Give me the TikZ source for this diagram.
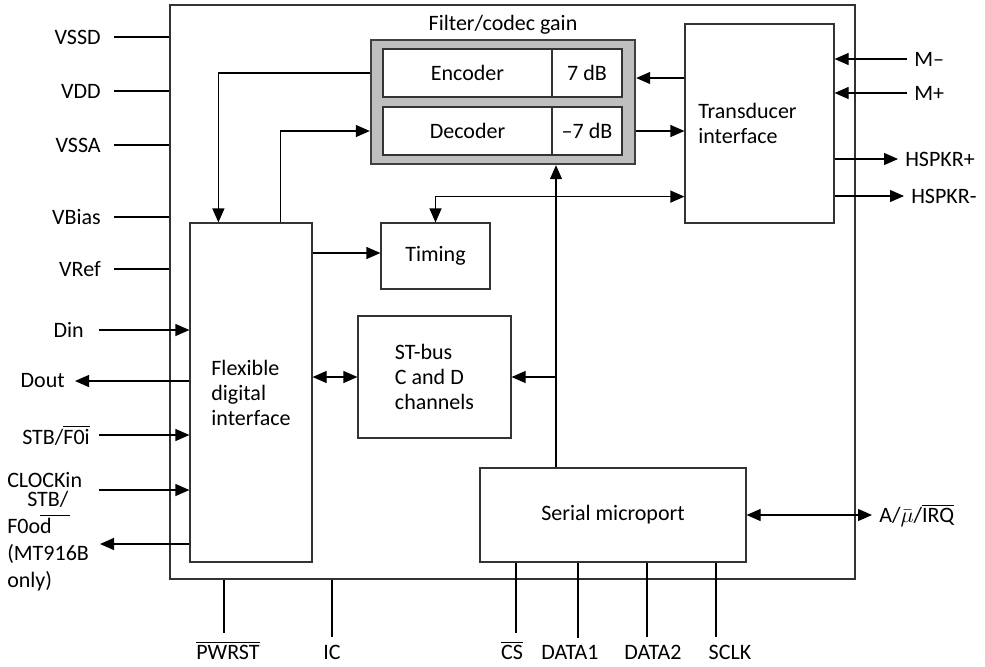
\documentclass[tikz,border=0pt]{standalone}
\usepackage{fontspec}
\setmainfont{Carlito}
\usepackage{tikz}
\usetikzlibrary{positioning, arrows.meta, calc}

\begin{document}
\begin{tikzpicture}[
        x=0.5pt, y=-0.5pt,          % one unit = one pixel of the sheet, y downwards
        >={Triangle[length=7pt,width=6pt]},
        semithick,                  % thin wires everywhere
        font=\fontsize{11}{12.5}\selectfont,
        blk/.style n args={2}{      % plain block: width, height
            draw=black!80,
            minimum width=#1,
            minimum height=#2,
            inner sep=0pt,
            align=left
        },
        cell/.style n args={2}{blk={#1}{#2}, fill=white}
    ]

    \useasboundingbox (0,0) rectangle (985,666);

    % --- Chip outline ---
    \node[blk={342.5pt}{287pt}] (chip) at (512.5,292) {};

    % --- Blocks ---
    \node[blk={61pt}{169.5pt}] (fdi) at (251,392.5) {Flexible\\digital\\interface};
    \node[blk={54.5pt}{33pt}] (timing) at (435.5,256) {Timing};
    \node[blk={76.5pt}{61pt}] (stbus) at (434.5,377) {ST-bus\\C and D\\channels};
    \node[blk={133pt}{47pt}] (serial) at (613,515) {Serial microport};
    \node[blk={74.5pt}{99.5pt}] (trans) at (759.5,123.5) {Transducer\hspace*{12pt}\\interface};

    % Filter/codec gain (grey frame with the two paths)
    \node[blk={132pt}{62pt}, draw=black!75, line width=1.2pt, fill=black!25,
          label={[inner sep=2pt]above:Filter/codec gain}] (codec) at (503,102) {};
    \node[cell={84.5pt}{24pt}] (enc) at (467.5,73) {Encoder};
    \node[cell={35pt}{24pt}] (encgain) at (587,73) {7 dB};
    \node[cell={84.5pt}{24pt}] (dec) at (467.5,131) {Decoder};
    \node[cell={35pt}{24pt}] (decgain) at (587,131) {--7 dB};

    % --- Internal connections ---
    \draw[->] (enc.west -| codec.west) -| ([xshift=14.5pt]fdi.north west);
    \draw[->] ([xshift=45.5pt]fdi.north west) |- (dec.west -| codec.west);
    \draw[->] ([yshift=-2.5pt]enc.east -| trans.west) -- ([yshift=-2.5pt]enc.east -| codec.east);
    \draw[->] (dec.east -| codec.east) -- (dec.east -| trans.west);
    \draw[<->] (timing.north) |- ([yshift=13.5pt]trans.south west);
    \draw[->] ([yshift=1.5pt]fdi.east |- timing.west) -- ([yshift=1.5pt]timing.west);
    \draw[<->] (fdi.east |- stbus.west) -- (stbus.west);

    \coordinate (tap) at (556,377);
    \draw[->] (serial.north -| tap) -- (codec.south -| tap);
    \draw[->] (tap) -- (stbus.east);

    % --- Supply pins (left) ---
    \foreach \nm/\yy in {VSSD/37, VDD/91, VSSA/145, VBias/217, VRef/269} {
        \node[anchor=east] (p\nm) at (108,\yy) {\nm};
        \draw ([xshift=3pt]p\nm.east) -- (p\nm.east -| chip.west);
    }

    % --- Digital interface pins (left) ---
    \node[anchor=east] (din) at (91,330) {Din};
    \draw[->] ([xshift=4pt]din.east) -- (din.east -| fdi.west);

    \node[anchor=east] (dout) at (72,381) {Dout};
    \draw[->] (dout.east -| fdi.west) -- ([xshift=1.5pt]dout.east);

    \node[anchor=east] (stbin) at (97,435) {STB/$\overline{\mbox{F0i}}$};
    \draw[->] ([xshift=1pt]stbin.east) -- (stbin.east -| fdi.west);

    \node[anchor=west] (clk) at (0,480) {CLOCKin};
    \coordinate (clkin) at (99,490);
    \draw[->] (clkin) -- (clkin -| fdi.west);

    \node[anchor=north west, align=left, font=\fontsize{11}{13.5}\selectfont]
        (stbout) at (0,484) {\hspace*{10pt}STB/\\F0o$\overline{\mbox{d\hspace{9pt}}}$\\(MT916B\\only)};
    \coordinate (fout) at (100,544);
    \draw[->] (fout -| fdi.west) -- (fout);

    % --- Bottom pins ---
    \node[anchor=base] (pwrst) at (228,659) {$\overline{\mbox{PWRST}}$};
    \draw ([xshift=-2pt]pwrst.north |- chip.south) -- ([xshift=-2pt]pwrst.north);
    \node[anchor=base] (ic) at (332,659) {IC};
    \draw (ic.north |- chip.south) -- (ic.north);

    \foreach \nm/\txt/\xx/\dx in {cs/{$\overline{\mbox{CS}}$}/512/2pt, data1/DATA1/570/4pt,
                                 data2/DATA2/653/-3pt, sclk/SCLK/730/-7pt} {
        \node[anchor=base] (\nm) at (\xx,659) {\txt};
        \draw ([xshift=\dx]\nm.north |- serial.south) -- ([xshift=\dx]\nm.north);
    }

    % --- Right side pins ---
    \node[anchor=west] (irq) at (872,515) {A/$\bar{\mu}$/$\overline{\mbox{IRQ}}$};
    \draw[<->] (serial.east |- irq.west) -- (irq.west);

    \node[anchor=west] (mminus) at (907,59) {M--};
    \draw[->] (mminus.west) -- (mminus.west -| trans.east);
    \node[anchor=west] (mplus) at (907,93) {M+};
    \draw[->] (mplus.west) -- (mplus.west -| trans.east);

    \node[anchor=west] (hspkrp) at (898,159) {HSPKR+};
    \draw[->] (trans.east |- hspkrp.west) -- (hspkrp.west);
    \node[anchor=west] (hspkrm) at (904,196) {HSPKR-};
    \draw[->] (trans.east |- hspkrm.west) -- (hspkrm.west);

\end{tikzpicture}
\end{document}
